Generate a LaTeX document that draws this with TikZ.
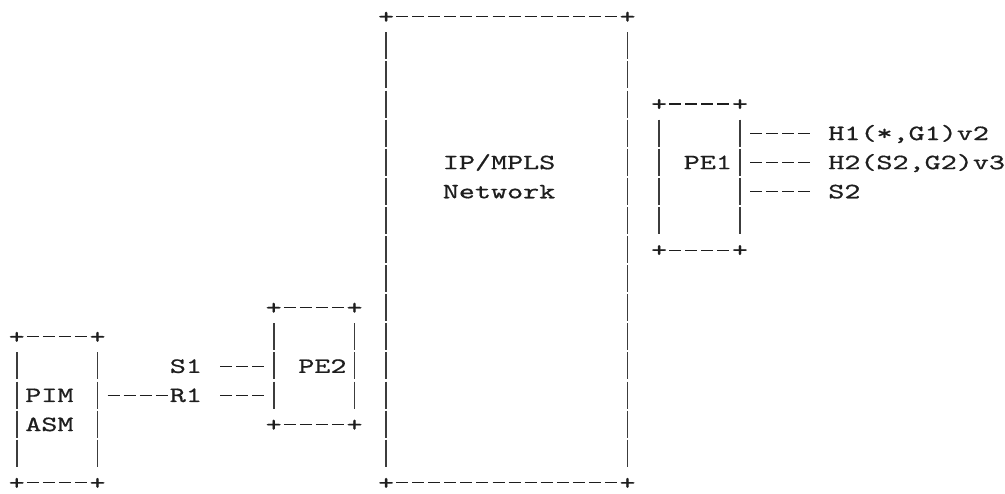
\documentclass[tikz,border=0pt]{standalone}
\usepackage{fontspec}
\usetikzlibrary{calc,fit}
\newfontfamily\ascfam{lmmono10-regular.otf}[FakeStretch=1.4016,FakeBold=0.7]
\newcommand\ascfont{\ascfam\fontsize{16.37pt}{20pt}\selectfont}
\newlength\capH
\settoheight{\capH}{\ascfont H}
\definecolor{ink}{RGB}{30,30,30}
\definecolor{bar}{RGB}{60,60,60}
\newcommand\gx[1]{17+16.06*(#1)}
\newcommand\gy[1]{17+29.1*(#1)}
\newcommand\asciibox[1]{%
  \draw[hline] ($(#1.north west)+(8.03,0)$) -- ($(#1.north east)+(-8.03,0)$);
  \draw[hline] ($(#1.south west)+(8.03,0)$) -- ($(#1.south east)+(-8.03,0)$);
  \draw[vline] ($(#1.north west)+(0,14.55)$) -- ($(#1.south west)+(0,-14.55)$);
  \draw[vline] ($(#1.north east)+(0,14.55)$) -- ($(#1.south east)+(0,-14.55)$);
  \node[corner] at (#1.north west) {+};
  \node[corner] at (#1.north east) {+};
  \node[corner] at (#1.south west) {+};
  \node[corner] at (#1.south east) {+};
}
\begin{document}
\begin{tikzpicture}[x=0.75pt,y=-0.75pt,
  txt/.style={font=\ascfont, inner sep=0pt,
    text height=\capH, text depth=0pt, text=ink},
  area/.style={inner sep=0pt, draw=none},
  hline/.style={draw=ink, line width=0.85pt, dash pattern=on 9pt off 3.045pt, dash phase=10.52pt},
  vline/.style={draw=bar, line width=1.35pt, dash pattern=on 20.3pt off 1.525pt, dash phase=21.06pt},
  corner/.style={txt, anchor=center},
]
\useasboundingbox (0,0) rectangle (1005,493);

% box areas
\coordinate (net-a) at ({\gx{23}},{\gy{0}});  \coordinate (net-b) at ({\gx{38}},{\gy{16}});
\coordinate (pe1-a) at ({\gx{40}},{\gy{3}});  \coordinate (pe1-b) at ({\gx{45}},{\gy{8}});
\coordinate (pe2-a) at ({\gx{16}},{\gy{10}}); \coordinate (pe2-b) at ({\gx{21}},{\gy{14}});
\coordinate (pim-a) at ({\gx{0}},{\gy{11}});  \coordinate (pim-b) at ({\gx{5}},{\gy{16}});
\node[area, fit=(net-a)(net-b)] (net) {};
\node[area, fit=(pe1-a)(pe1-b)] (pe1) {};
\node[area, fit=(pe2-a)(pe2-b)] (pe2) {};
\node[area, fit=(pim-a)(pim-b)] (pim) {};

\asciibox{net}
\asciibox{pe1}
\asciibox{pe2}
\asciibox{pim}

% labels
\node[txt, anchor=west] (netl1) at ({\gx{26.5}},{\gy{5}}) {IP/MPLS};
\node[txt, anchor=west] (netl2) at ({\gx{26.5}},{\gy{6}}) {Network};
\node[txt, anchor=west] (pe1l) at ({\gx{41.5}},{\gy{5}}) {PE1};
\node[txt, anchor=west] (pe2l) at ({\gx{17.5}},{\gy{12}}) {PE2};
\node[txt, anchor=west] (piml1) at ({\gx{0.5}},{\gy{13}}) {PIM};
\node[txt, anchor=west] (piml2) at ({\gx{0.5}},{\gy{14}}) {ASM};
\node[txt, anchor=west] (h1) at ({\gx{50.5}},{\gy{4}}) {H1(*,G1)v2};
\node[txt, anchor=west] (h2) at ({\gx{50.5}},{\gy{5}}) {H2(S2,G2)v3};
\node[txt, anchor=west] (s2) at ({\gx{50.5}},{\gy{6}}) {S2};
\node[txt, anchor=west] (s1) at ({\gx{9.5}},{\gy{12}}) {S1};
\node[txt, anchor=west] (r1) at ({\gx{9.5}},{\gy{13}}) {R1};

% connectors
\draw[hline] ($(pe1.east |- h1.west)+(8.03,0)$) -- ($(h1.west)+(-16.06,0)$);
\draw[hline] ($(pe1.east |- h2.west)+(8.03,0)$) -- ($(h2.west)+(-16.06,0)$);
\draw[hline] ($(pe1.east |- s2.west)+(8.03,0)$) -- ($(s2.west)+(-16.06,0)$);
\draw[hline] ($(s1.east)+(16.06,0)$) -- ($(pe2.west |- s1.east)+(-8.03,0)$);
\draw[hline] ($(pim.east |- r1.west)+(8.03,0)$) -- (r1.west);
\draw[hline] ($(r1.east)+(16.06,0)$) -- ($(pe2.west |- r1.east)+(-8.03,0)$);
\end{tikzpicture}
\end{document}
